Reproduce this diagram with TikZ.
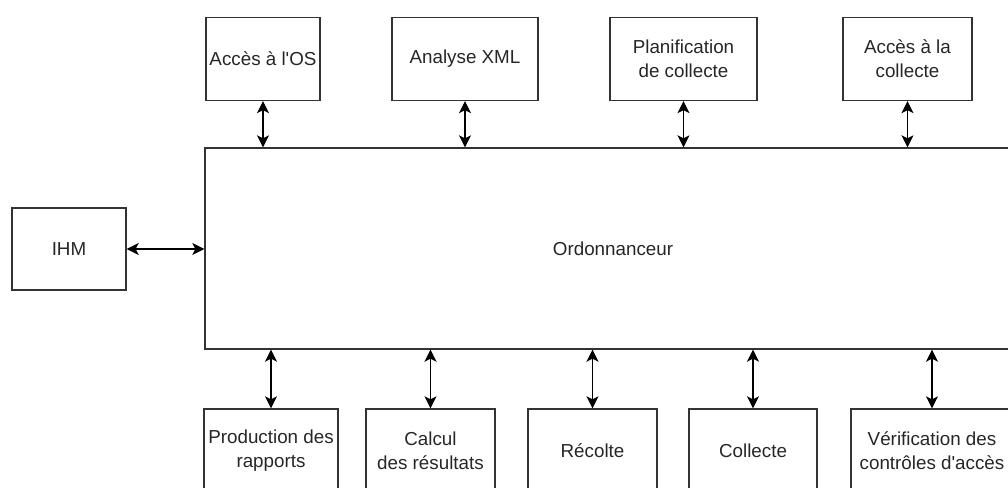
\documentclass[tikz,border=0pt]{standalone}
\usepackage{fontspec}
\setmainfont{Liberation Sans}[Ligatures=TeXOff]
\usetikzlibrary{arrows.meta}
\definecolor{lc}{HTML}{333333}
\begin{document}
\begin{tikzpicture}[x=1pt,y=-1pt,
  box/.style={draw=lc,line width=1.4pt,rectangle,inner sep=0pt,align=center,
    font=\fontsize{18.8}{24}\selectfont,text=black!85},
  link/.style={draw=black,line width=1.3pt,
    {Stealth[length=12pt,width=12pt,inset=3pt]}-{Stealth[length=12pt,width=12pt,inset=3pt]}}]
\useasboundingbox (0,0) rectangle (1008,487);
\clip (0,0) rectangle (1008,487);
% top boxes
\node[box,minimum width=114pt,minimum height=83pt] (os) at (263,59) {Accès à l'OS};
\node[box,minimum width=146pt,minimum height=83pt] (xml) at (465,59) {Analyse XML};
\node[box,minimum width=147pt,minimum height=83pt] (plan) at (683.5,59) {Planification\\de collecte};
\node[box,minimum width=129pt,minimum height=83pt] (acc) at (907.5,59) {Accès à la\\collecte};
% central
\node[box,minimum width=816pt,minimum height=201pt] (ord) at (613,248.5) {Ordonnanceur};
% left
\node[box,minimum width=114pt,minimum height=82pt] (ihm) at (69,249) {IHM};
% bottom boxes
\node[box,minimum width=134pt,minimum height=83pt] (prod) at (271,450.5) {Production des\\rapports};
\node[box,minimum width=129pt,minimum height=83pt] (calc) at (430.5,450.5) {Calcul\\des résultats};
\node[box,minimum width=129pt,minimum height=83pt] (rec) at (592.5,450.5) {Récolte};
\node[box,minimum width=128pt,minimum height=83pt] (col) at (753,450.5) {Collecte};
\node[box,minimum width=162pt,minimum height=83pt] (ver) at (932,450.5) {Vérification des\\contrôles d'accès};
% links
\draw[link] (os.south) -- (os.south |- ord.north);
\draw[link] (xml.south) -- (xml.south |- ord.north);
\draw[link] (plan.south) -- (plan.south |- ord.north);
\draw[link] (acc.south) -- (acc.south |- ord.north);
\draw[link] (ihm.east) -- (ihm.east -| ord.west);
\draw[link] (ord.south -| prod.north) -- (prod.north);
\draw[link] (ord.south -| calc.north) -- (calc.north);
\draw[link] (ord.south -| rec.north) -- (rec.north);
\draw[link] (ord.south -| col.north) -- (col.north);
\draw[link] (ord.south -| ver.north) -- (ver.north);
\end{tikzpicture}
\end{document}
